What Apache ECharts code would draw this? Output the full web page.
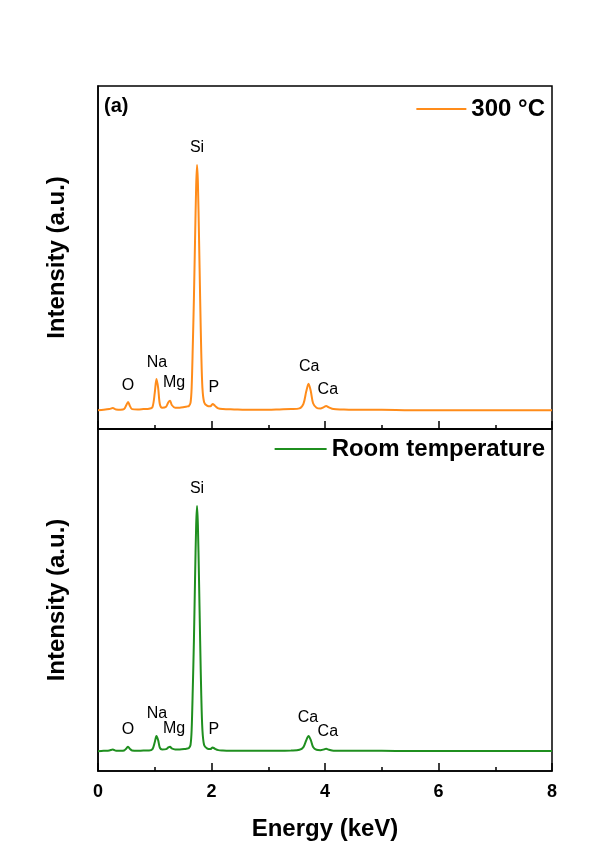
<!DOCTYPE html>
<html>
<head>
<meta charset="utf-8">
<script src="https://cdn.jsdelivr.net/npm/echarts@6/dist/echarts.min.js"></script>
<style>
  html, body { margin: 0; padding: 0; background: #fff; }
  #chart { width: 595px; height: 847px; }
</style>
</head>
<body>
<div id="chart"></div>
<script>
// energy axis (keV) shared by both spectra
const energy = [
  0.00, 0.10, 0.20, 0.26, 0.32, 0.40, 0.46, 0.50, 0.53, 0.56, 0.60, 0.70, 0.80, 0.90, 0.96,
  1.00, 1.03, 1.06, 1.09, 1.13, 1.20, 1.24, 1.27, 1.30, 1.36, 1.44, 1.52, 1.58, 1.60, 1.63,
  1.65, 1.67, 1.69, 1.71, 1.73, 1.745, 1.76, 1.78, 1.80, 1.82, 1.84, 1.87, 1.92, 1.98, 2.02,
  2.06, 2.12, 2.20, 2.40, 2.60, 2.80, 3.00, 3.20, 3.40, 3.55, 3.62, 3.67, 3.71, 3.75, 3.79,
  3.85, 3.92, 3.98, 4.02, 4.07, 4.15, 4.30, 4.60, 5.00, 5.50, 6.00, 6.50, 7.00, 7.50, 8.00
];

// 300 °C spectrum (arbitrary units)
const hot = [
  5.5, 5.6, 5.8, 6.1, 5.7, 5.6, 5.8, 7.0, 7.9, 6.8, 5.8, 5.7, 5.8, 5.9, 6.4,
  10.5, 14.6, 12.0, 7.2, 6.2, 6.5, 7.8, 8.2, 7.0, 6.2, 6.2, 6.4, 6.6, 6.7, 7.6,
  12.0, 24.0, 38.0, 55.0, 71.0, 77.0, 72.0, 56.0, 38.0, 22.0, 12.0, 7.8, 6.8, 6.6, 7.3,
  6.8, 6.0, 5.8, 5.7, 5.6, 5.6, 5.6, 5.7, 5.8, 6.0, 7.3, 11.0, 13.2, 11.0, 7.5,
  6.2, 6.0, 6.4, 6.7, 6.3, 5.8, 5.7, 5.6, 5.6, 5.5, 5.5, 5.5, 5.5, 5.5, 5.5
];

// room temperature spectrum
const room = [
  5.8, 5.9, 6.0, 6.3, 5.9, 5.9, 6.0, 6.6, 7.1, 6.5, 6.0, 5.9, 6.0, 6.0, 6.4,
  8.4, 10.2, 9.0, 6.8, 6.3, 6.4, 6.9, 7.1, 6.6, 6.3, 6.3, 6.4, 6.6, 6.7, 7.6,
  12.0, 24.0, 38.0, 56.0, 72.0, 77.5, 72.0, 56.0, 38.0, 22.0, 12.0, 7.6, 6.6, 6.4, 6.9,
  6.5, 6.1, 6.0, 5.9, 5.9, 5.9, 5.9, 5.9, 6.0, 6.2, 7.0, 9.0, 10.2, 9.0, 7.0,
  6.2, 6.1, 6.3, 6.5, 6.2, 5.9, 5.9, 5.9, 5.9, 5.85, 5.85, 5.85, 5.85, 5.85, 5.85
];

// peak annotations: [energy, intensity] of label centre
const peakNames = ["O", "Na", "Mg", "Si", "P", "Ca", "Ca"];
const hotLabelPos = [[0.53, 12.8], [1.04, 19.5], [1.34, 13.4], [1.745, 81.9], [2.04, 12.0], [3.72, 18.1], [4.05, 11.4]];
const roomLabelPos = [[0.53, 12.0], [1.04, 16.7], [1.34, 12.3], [1.745, 82.7], [2.04, 12.0], [3.70, 15.5], [4.05, 11.4]];

const xTicks = [0, 2, 4, 6, 8];

const FONT = "Liberation Sans";

const chart = echarts.init(document.getElementById("chart"), null, { renderer: "canvas" });

function xAxisFor(gridIndex, showLabels) {
  return {
    type: "value",
    gridIndex: gridIndex,
    min: xTicks[0],
    max: xTicks[xTicks.length - 1],
    interval: 2,
    axisLine: { show: true, onZero: false, lineStyle: { color: "#000", width: 1.5 } },
    axisTick: { show: true, inside: true, length: 8, lineStyle: { color: "#000", width: 1.5 } },
    minorTick: { show: true, splitNumber: 2, length: 4, lineStyle: { color: "#000", width: 1.5 } },
    splitLine: { show: false },
    axisLabel: {
      show: showLabels, margin: 12, color: "#000",
      fontFamily: FONT, fontWeight: "bold", fontSize: 18
    },
    name: showLabels ? "Energy (keV)" : "",
    nameLocation: "middle",
    nameGap: 46,
    nameTextStyle: { color: "#000", fontFamily: FONT, fontWeight: "bold", fontSize: 24 }
  };
}

function yAxisFor(gridIndex) {
  return {
    type: "value",
    gridIndex: gridIndex,
    min: 0,
    max: 100,
    axisLine: { show: true, lineStyle: { color: "#000", width: 1.5 } },
    axisTick: { show: false },
    axisLabel: { show: false },
    splitLine: { show: false },
    name: "Intensity (a.u.)",
    nameLocation: "middle",
    nameGap: 29,
    nameTextStyle: { color: "#000", fontFamily: FONT, fontWeight: "bold", fontSize: 24 }
  };
}

function spectrum(name, values, color, idx) {
  return {
    name: name,
    type: "line",
    xAxisIndex: idx,
    yAxisIndex: idx,
    data: energy.map((e, i) => [e, values[i]]),
    showSymbol: false,
    symbol: "none",
    smooth: 0.3,
    lineStyle: { color: color, width: 2 },
    itemStyle: { color: color },
    silent: true
  };
}

function labels(pos, idx) {
  return {
    type: "scatter",
    xAxisIndex: idx,
    yAxisIndex: idx,
    symbolSize: 0,
    silent: true,
    itemStyle: { opacity: 1 },
    data: pos.map((p, i) => ({ value: p, name: peakNames[i] })),
    label: {
      show: true,
      position: "inside",
      formatter: (p) => p.name,
      color: "#000",
      opacity: 1,
      fontFamily: FONT,
      fontSize: 16
    }
  };
}

const legendText = { color: "#000", fontFamily: FONT, fontWeight: "bold", fontSize: 24 };

chart.setOption({
  backgroundColor: "#fff",
  animation: false,
  grid: [
    { left: 98, top: 86, width: 454, height: 343, show: true, borderColor: "#000", borderWidth: 1.5, backgroundColor: "transparent" },
    { left: 98, top: 429, width: 454, height: 342, show: true, borderColor: "#000", borderWidth: 1.5, backgroundColor: "transparent" }
  ],
  xAxis: [xAxisFor(0, false), xAxisFor(1, true)],
  yAxis: [yAxisFor(0), yAxisFor(1)],
  legend: [
    {
      data: ["300 °C"], right: 50, top: 97, padding: 0,
      icon: "rect", itemWidth: 50, itemHeight: 2, itemGap: 0,
      textStyle: legendText
    },
    {
      data: ["Room temperature"], right: 50, top: 437, padding: 0,
      icon: "rect", itemWidth: 52, itemHeight: 2, itemGap: 0,
      textStyle: legendText
    }
  ],
  graphic: [
    {
      type: "text", left: 104, top: 96,
      style: { text: "(a)", fill: "#000", font: "bold 20px 'Liberation Sans'" }
    }
  ],
  series: [
    spectrum("300 °C", hot, "#ff8c1a", 0),
    spectrum("Room temperature", room, "#1f8f1f", 1),
    labels(hotLabelPos, 0),
    labels(roomLabelPos, 1)
  ]
});
</script>
</body>
</html>
